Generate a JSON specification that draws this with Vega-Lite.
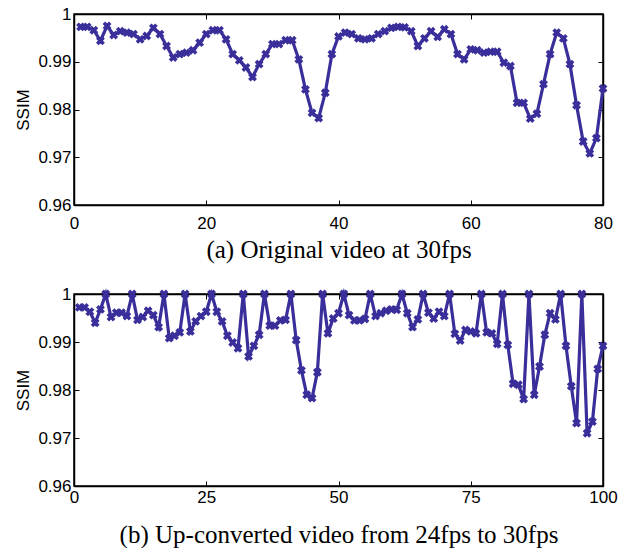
{
  "$schema": "https://vega.github.io/schema/vega-lite/v6.json",
  "padding": {"left": 14, "top": 4, "right": 10, "bottom": 0},
  "background": "white",
  "config": {
    "view": {"stroke": "black", "strokeWidth": 1.5},
    "axis": {
      "labelFont": "Liberation Sans", "labelFontSize": 17, "labelColor": "black", "labelFlush": false,
      "titleFont": "Liberation Sans", "titleFontSize": 17, "titleColor": "black", "titleFontWeight": "normal",
      "domainColor": "black", "domainWidth": 1.5, "tickColor": "black", "tickWidth": 1, "tickSize": -5,
      "grid": false, "labelPadding": 8
    },
    "concat": {"spacing": 21}
  },
  "datasets": {
    "orig": [
      {"frame":1,"ssim":0.9973},{"frame":2,"ssim":0.9973},{"frame":3,"ssim":0.9966},{"frame":4,"ssim":0.9944},{"frame":5,"ssim":0.9975},
      {"frame":6,"ssim":0.9956},{"frame":7,"ssim":0.9964},{"frame":8,"ssim":0.9961},{"frame":9,"ssim":0.9958},{"frame":10,"ssim":0.9947},
      {"frame":11,"ssim":0.9954},{"frame":12,"ssim":0.9971},{"frame":13,"ssim":0.9958},{"frame":14,"ssim":0.9933},{"frame":15,"ssim":0.9909},
      {"frame":16,"ssim":0.9916},{"frame":17,"ssim":0.9919},{"frame":18,"ssim":0.9924},{"frame":19,"ssim":0.9940},{"frame":20,"ssim":0.9958},
      {"frame":21,"ssim":0.9966},{"frame":22,"ssim":0.9966},{"frame":23,"ssim":0.9947},{"frame":24,"ssim":0.9916},{"frame":25,"ssim":0.9903},
      {"frame":26,"ssim":0.9888},{"frame":27,"ssim":0.9868},{"frame":28,"ssim":0.9895},{"frame":29,"ssim":0.9916},{"frame":30,"ssim":0.9937},
      {"frame":31,"ssim":0.9937},{"frame":32,"ssim":0.9945},{"frame":33,"ssim":0.9945},{"frame":34,"ssim":0.9905},{"frame":35,"ssim":0.9842},
      {"frame":36,"ssim":0.9793},{"frame":37,"ssim":0.9782},{"frame":38,"ssim":0.9835},{"frame":39,"ssim":0.9916},{"frame":40,"ssim":0.9953},
      {"frame":41,"ssim":0.9961},{"frame":42,"ssim":0.9958},{"frame":43,"ssim":0.9949},{"frame":44,"ssim":0.9947},{"frame":45,"ssim":0.9949},
      {"frame":46,"ssim":0.9958},{"frame":47,"ssim":0.9964},{"frame":48,"ssim":0.9971},{"frame":49,"ssim":0.9973},{"frame":50,"ssim":0.9972},
      {"frame":51,"ssim":0.9964},{"frame":52,"ssim":0.9933},{"frame":53,"ssim":0.9949},{"frame":54,"ssim":0.9964},{"frame":55,"ssim":0.9952},
      {"frame":56,"ssim":0.9968},{"frame":57,"ssim":0.9958},{"frame":58,"ssim":0.9916},{"frame":59,"ssim":0.9905},{"frame":60,"ssim":0.9926},
      {"frame":61,"ssim":0.9924},{"frame":62,"ssim":0.9919},{"frame":63,"ssim":0.9921},{"frame":64,"ssim":0.9921},{"frame":65,"ssim":0.9898},
      {"frame":66,"ssim":0.9891},{"frame":67,"ssim":0.9814},{"frame":68,"ssim":0.9814},{"frame":69,"ssim":0.9781},{"frame":70,"ssim":0.9791},
      {"frame":71,"ssim":0.9853},{"frame":72,"ssim":0.9916},{"frame":73,"ssim":0.9961},{"frame":74,"ssim":0.9949},{"frame":75,"ssim":0.9895},
      {"frame":76,"ssim":0.9809},{"frame":77,"ssim":0.9733},{"frame":78,"ssim":0.9708},{"frame":79,"ssim":0.9740},{"frame":80,"ssim":0.9844}
    ],
    "upconv": [
      {"frame":1,"ssim":0.9972},{"frame":2,"ssim":0.9972},{"frame":3,"ssim":0.9963},{"frame":4,"ssim":0.9940},{"frame":5,"ssim":0.9968},
      {"frame":6,"ssim":1.0},{"frame":7,"ssim":0.9952},{"frame":8,"ssim":0.9961},{"frame":9,"ssim":0.9961},{"frame":10,"ssim":0.9954},
      {"frame":11,"ssim":1.0},{"frame":12,"ssim":0.9946},{"frame":13,"ssim":0.9952},{"frame":14,"ssim":0.9965},{"frame":15,"ssim":0.9956},
      {"frame":16,"ssim":0.9931},{"frame":17,"ssim":1.0},{"frame":18,"ssim":0.9908},{"frame":19,"ssim":0.9913},{"frame":20,"ssim":0.9920},
      {"frame":21,"ssim":1.0},{"frame":22,"ssim":0.9922},{"frame":23,"ssim":0.9943},{"frame":24,"ssim":0.9954},{"frame":25,"ssim":0.9963},
      {"frame":26,"ssim":1.0},{"frame":27,"ssim":0.9963},{"frame":28,"ssim":0.9943},{"frame":29,"ssim":0.9913},{"frame":30,"ssim":0.9899},
      {"frame":31,"ssim":0.9887},{"frame":32,"ssim":1.0},{"frame":33,"ssim":0.9870},{"frame":34,"ssim":0.9892},{"frame":35,"ssim":0.9915},
      {"frame":36,"ssim":1.0},{"frame":37,"ssim":0.9934},{"frame":38,"ssim":0.9934},{"frame":39,"ssim":0.9945},{"frame":40,"ssim":0.9946},
      {"frame":41,"ssim":1.0},{"frame":42,"ssim":0.9904},{"frame":43,"ssim":0.9841},{"frame":44,"ssim":0.9790},{"frame":45,"ssim":0.9783},
      {"frame":46,"ssim":0.9837},{"frame":47,"ssim":1.0},{"frame":48,"ssim":0.9918},{"frame":49,"ssim":0.9949},{"frame":50,"ssim":0.9960},
      {"frame":51,"ssim":1.0},{"frame":52,"ssim":0.9956},{"frame":53,"ssim":0.9945},{"frame":54,"ssim":0.9945},{"frame":55,"ssim":0.9948},
      {"frame":56,"ssim":1.0},{"frame":57,"ssim":0.9954},{"frame":58,"ssim":0.9960},{"frame":59,"ssim":0.9965},{"frame":60,"ssim":0.9968},
      {"frame":61,"ssim":0.9967},{"frame":62,"ssim":1.0},{"frame":63,"ssim":0.9960},{"frame":64,"ssim":0.9931},{"frame":65,"ssim":0.9947},
      {"frame":66,"ssim":1.0},{"frame":67,"ssim":0.9961},{"frame":68,"ssim":0.9949},{"frame":69,"ssim":0.9963},{"frame":70,"ssim":0.9954},
      {"frame":71,"ssim":1.0},{"frame":72,"ssim":0.9917},{"frame":73,"ssim":0.9903},{"frame":74,"ssim":0.9925},{"frame":75,"ssim":0.9922},
      {"frame":76,"ssim":0.9918},{"frame":77,"ssim":1.0},{"frame":78,"ssim":0.9920},{"frame":79,"ssim":0.9918},{"frame":80,"ssim":0.9896},
      {"frame":81,"ssim":1.0},{"frame":82,"ssim":0.9894},{"frame":83,"ssim":0.9813},{"frame":84,"ssim":0.9811},{"frame":85,"ssim":0.9781},
      {"frame":86,"ssim":1.0},{"frame":87,"ssim":0.9790},{"frame":88,"ssim":0.9849},{"frame":89,"ssim":0.9915},{"frame":90,"ssim":0.9960},
      {"frame":91,"ssim":0.9947},{"frame":92,"ssim":1.0},{"frame":93,"ssim":0.9892},{"frame":94,"ssim":0.9808},{"frame":95,"ssim":0.9731},
      {"frame":96,"ssim":1.0},{"frame":97,"ssim":0.9710},{"frame":98,"ssim":0.9734},{"frame":99,"ssim":0.9844},{"frame":100,"ssim":0.9892}
    ]
  },
  "vconcat": [
    {
      "width": 529, "height": 191,
      "data": {"name": "orig"},
      "layer": [
        {
          "mark": {"type": "line", "color": "#3a2f9a", "strokeWidth": 3.2},
          "encoding": {
            "x": {"field": "frame", "type": "quantitative", "scale": {"domain": [0, 80], "nice": false, "zero": false},
                  "axis": {"orient": "bottom", "values": [0, 20, 40, 60, 80], "labelPadding": 15, "title": "(a) Original video at 30fps",
                           "titleFont": "Liberation Serif", "titleFontSize": 25, "titlePadding": 6}},
            "y": {"field": "ssim", "type": "quantitative", "scale": {"domain": [0.96, 1], "nice": false, "zero": false},
                  "axis": {"orient": "left", "values": [0.96, 0.97, 0.98, 0.99, 1], "format": ".2~f", "title": "SSIM", "titlePadding": 5}}
          }
        },
        {
          "mark": {"type": "point", "shape": "cross", "angle": 45, "filled": true, "size": 80, "color": "#3a2f9a", "opacity": 1},
          "encoding": {
            "x": {"field": "frame", "type": "quantitative", "scale": {"domain": [0, 80], "nice": false, "zero": false},
                  "axis": {"orient": "top", "values": [0, 20, 40, 60, 80], "labels": false, "title": null}},
            "y": {"field": "ssim", "type": "quantitative", "scale": {"domain": [0.96, 1], "nice": false, "zero": false},
                  "axis": {"orient": "right", "values": [0.96, 0.97, 0.98, 0.99, 1], "labels": false, "title": null}}
          }
        }
      ],
      "resolve": {"axis": {"x": "independent", "y": "independent"}}
    },
    {
      "width": 529, "height": 192,
      "data": {"name": "upconv"},
      "layer": [
        {
          "mark": {"type": "line", "color": "#3a2f9a", "strokeWidth": 3.2},
          "encoding": {
            "x": {"field": "frame", "type": "quantitative", "scale": {"domain": [0, 100], "nice": false, "zero": false},
                  "axis": {"orient": "bottom", "values": [0, 25, 50, 75, 100], "labelPadding": 8, "title": "(b) Up-converted video from 24fps to 30fps",
                           "titleFont": "Liberation Serif", "titleFontSize": 25, "titlePadding": 17}},
            "y": {"field": "ssim", "type": "quantitative", "scale": {"domain": [0.96, 1], "nice": false, "zero": false},
                  "axis": {"orient": "left", "values": [0.96, 0.97, 0.98, 0.99, 1], "format": ".2~f", "title": "SSIM", "titlePadding": 5}}
          }
        },
        {
          "mark": {"type": "point", "shape": "cross", "angle": 45, "filled": true, "size": 80, "color": "#3a2f9a", "opacity": 1},
          "encoding": {
            "x": {"field": "frame", "type": "quantitative", "scale": {"domain": [0, 100], "nice": false, "zero": false},
                  "axis": {"orient": "top", "values": [0, 25, 50, 75, 100], "labels": false, "title": null}},
            "y": {"field": "ssim", "type": "quantitative", "scale": {"domain": [0.96, 1], "nice": false, "zero": false},
                  "axis": {"orient": "right", "values": [0.96, 0.97, 0.98, 0.99, 1], "labels": false, "title": null}}
          }
        }
      ],
      "resolve": {"axis": {"x": "independent", "y": "independent"}}
    }
  ]
}
